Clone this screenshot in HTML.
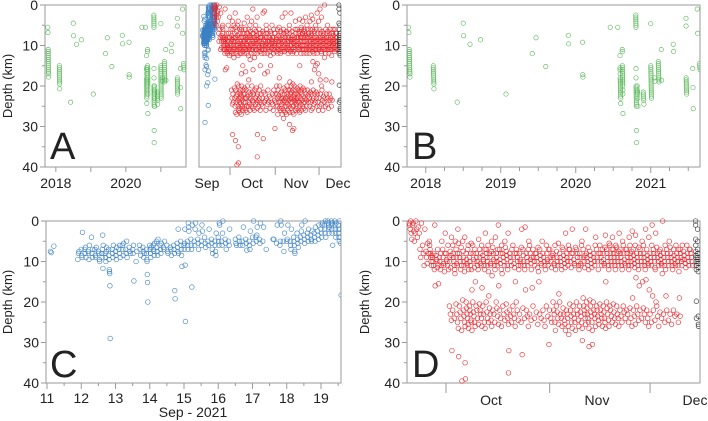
<!DOCTYPE html>
<html><head><meta charset="utf-8">
<style>
html,body{margin:0;padding:0;background:#fff;}
svg{display:block;font-family:"Liberation Sans",Arial,sans-serif;}
</style></head>
<body>
<svg id="fig" width="708" height="421" viewBox="0 0 708 421" xmlns="http://www.w3.org/2000/svg"></svg>
<script>
// ---------- DATA ----------
const greenRows = [
[2017.77,5.5,6.8],[2017.78,11,11.5,12,12.5,13,13.5,14,14.5,15,15.5,16,16.5,17,17.8],
[2018.1,15,15.5,16,16.5,17,17.5,18,18.5,19,19.5,20.7],
[2018.42,24],[2018.5,4.5,7.6],[2018.59,9.7],[2018.73,8.6],[2019.07,22],
[2019.42,12],[2019.47,8.1],[2019.6,15.2],[2019.9,7.5,9.6],[2020.09,9.2,17.2,17.8],
[2020.46,5.5],[2020.56,5.5],
[2020.59,12.5,15.5,16,17,18,18.5,19,19.5,20,20.5,21,21.5,22,22.5,23,24.3],
[2020.62,11,11.5,15,15.5,16,16.5,17,17.5,18,18.5,19,19.5,20,21,22,26.8],
[2020.8,2.5,3,3.5,4,4.5,5,5.5,15.7,18,20,20.5,21,21.5,22,22.5,23,23.5,24,24.5,25,31,34],
[2020.82,20,21,21.5,22,23,25],
[2020.9,21.5,22,22.5,23,23.5,24.5],[2021.0,4.6,15,15.5,16,16.5,17,17.5,18,18.5,19,19.5,20,20.5,21,21.5,22,22.5,23],
[2021.05,18,18.8],[2021.1,14,14.5,15,15.5,16,16.5,17,17.5,18,18.5,19],[2021.14,11,18.6],
[2021.3,9.7,11.5],[2021.47,3.3,5.2,18,18.5,19,19.5,20,20.5,21,21.5,22],
[2021.56,15.7,20.4,25.6],[2021.62,1,7],[2021.65,14.5,15,15.5,16]
];
const blueRows = [
[11.1,7.5,7.8],[11.2,6.2],[11.9,9.5,8,7.5],[12.0,7,8.5,9,2.8],[12.1,7,8,6.5,9],[12.2,7.5,8,9.5,6],
[12.3,4,8,9,7],[12.4,7,8.5,9,6.5],[12.5,7.5,8,9.5,10],[12.6,8,9,7,3.5,11.7,6],[12.7,8,9,10,7.5,6.5],
[12.8,7,8.5,9.5,12,12.5,13,16,29],[12.9,7,8,9,6],[13.0,7.5,8.5,9.5,6.5],[13.1,7,8,6,9],[13.2,6,7,8.5,5.5],
[13.3,7,8,5,9],[13.4,6.5,7.5,8],[13.5,7,8,6,14.8],[13.6,10,7.5],[13.7,6,7,8.5],[13.8,6.5,7.5,9,8],
[13.9,7,8,9.5,10,13.2,15.2,20],[14.0,6,7,8,9,6.5],[14.1,6,7,7.5,8.5,5.5],[14.2,5,6.5,7.5,8.5,4.5],
[14.3,6,7,8,5.5],[14.4,6.5,7,5],[14.5,6,7.5,8],[14.6,6.5,7,8.5],[14.7,6,7,8,17.2,19.2],[14.8,5.5,6.5,7.5,2,8],
[14.9,5,6,7,8.5,11.2],[15.0,6,7,5.5,2,10.9,24.8],[15.1,5,6,7,0.5,1.5,2.5],[15.2,4.5,6,7,16.3,1],
[15.3,5,6,2,0.5],[15.4,4.5,5.5,7,3],[15.5,5,6,1,2.5],[15.6,4,5.5,6.5],[15.7,5,6,2],[15.8,4.5,5.5,7,8],
[15.9,5,6,7.5,8.5,3],[16.0,4,5,6,0.5,1],[16.1,5,6,3,0],[16.2,4.5,5.5,7],[16.3,5,6,2],[16.5,4.5,5.5,6],
[16.6,4,5,6],[16.7,5,6,1.5],[16.8,4.5,5.5,7.2],[16.9,5,6,7,2.5],[17.0,4,5.5,0],[17.1,4,5,3.5,1.5],
[17.2,4.5,5.5,0.5],[17.3,5,1.5],[17.4,7],[17.6,4.5,4.5],[17.7,5.5,1],[17.8,6,5,0,1],[17.9,5,7.5,3],
[18.0,5,4.5,1],[18.1,5,6,7,2],[18.2,4,5,6,7.5,8],[18.3,3,4.5,5.5,6.5],[18.4,4,5,2.5,1],[18.5,3.5,4.5,5.5,0],
[18.6,3,4,5,2],[18.7,3.5,4.5,5,2.5],[18.8,3,4,5,1.5],[18.9,2.5,3.5,4.5,1],[19.0,2,3,4,1,0.5],
[19.1,1,2,3,0,4],[19.2,0,0.5,1,2,3,1.5],[19.3,0,1,2,3,0.5,6],[19.4,0,1,2,3,4,0.5],[19.5,1,2,3,4,5,0],
[19.55,2,4,5.5,18.3]
];
const redRows = [
[19,0.5,1,2,0,3,4.5],[20,1,0.5,2.5,5,3],[21,0,2,4,1.5],[22,3,7,9,0.5],[23,6,8,11,2],[24,7.5,9,10.5,5.5,8],
[25,5,6,7,8,9,10,11,8.5],[26,9,10,11,8,12,1,16],[27,8.5,9.5,10,11.5,7,10.8,15.5],[28,9,10,12,8,11,5],
[29,7,9,10.5,11,12.5,8,3],[30,8,9.5,10,11,6,12],[31,9,10,7.5,11.5,8.5,4,32],[32,6,8,9,10,11,12,13,5],
[33,7,9,10.5,11,8,2,5.5,33.5],[34,8,9,10,12,6.5,11,39.5],[35,5,7.5,9,10,11,12.5,4,35,39],[36,8,9.5,10.5,11,7,6,12],
[37,9,10,11,8,5.5,12,17],[38,6,8,9.5,10,11.5,7,15],[39,8,9,10,11,12,4.5],[40,7,9,10.5,8,11,6,16.5],
[41,8.5,9.5,10,11,12,7,3],[42,7,8,9,10,11,6,12.5,18.5],[43,8,9,10.5,11,7.5,5,13.5],[44,6.5,8,9.5,10,11,12,4],
[45,8,9,10,11,7,1,16],[46,7,9.5,10.5,8,12,6,13],[47,8,9,10,11,5,6.5],[48,7.5,8.5,9.5,11,12,3,37.5,32],
[49,8,9,10,11,7],[50,6,9,10.5,11.5,8,15],[51,7,8,9,10,11,12],[52,8,9.5,10,11,6.5,2,33],[53,7,8.5,10,11,12,1.5,17],
[54,8,9,10,11,7,5],[55,6,8,9.5,10.5,12,9,16.5],[56,7,9,10,11,8],[57,8,9,10,11.5,6.5,12.5,15],[58,7,8.5,9.5,10.5,11,5],
[59,8,9,10,11,12],[60,6,8,9.5,10,11,7,30.5],[61,7,9,10,11.5,8.5],[62,8,9,10.5,11,6,12],[63,7.5,9,10,11,5.5,18],
[64,8,9,10,11,12,6.5],[65,7,8.5,9.5,10.5,11.5,3],[66,8,9,10,11,6,7],[67,7,9,10,11.5,8,2],[68,8,9.5,10.5,11,6.5],
[69,7,8,9,10,11,12],[70,8,9,10.5,11,6,5,29.5],[71,7,9,10,11.5,8.5,2],[72,8,9,10,11,6.5,12,31],[73,7.5,8.5,9.5,10.5,11.5,30.5],
[74,8,9,10,11,6,4],[75,7,9,10,12,8],[76,6,8,9,10,11,7],[77,8,9.5,10.5,11,6.5,3.5,15],[78,7,8,9,10,11,12,5.5],
[79,6,8,9,10,11,7,4],[80,7,8,9,10,11,12,6],[81,6.5,8,9,10,11,7.5,3],[82,7,8,9,10,11,12,5],[83,6,8,9.5,10.5,11,7],
[84,7,8,9,10,11,12,4],[85,6,8,9,10,11,7.5,2.5,19],[86,7,8.5,9.5,10.5,11.5,6,3.5,14],[87,8,9,10,11,12,6.5,16],
[88,7,8,9,10,11,5,15],[89,6,8,9,10,11,12,2,14.5],[90,7,8.5,9.5,10.5,11,4,17],[91,8,9,10,11,6,1,18.5],
[92,7,8,9,10,11.5,12,3,20],[93,6.5,8,9,10,11,7.5],[94,7,8.5,9.5,10.5,11,13,0],[95,8,9,10,11,6,12,18.5],
[96,7,8,9,10,11,5],[97,6.5,8,9,10,11,12],[98,7,8.5,9.5,10.5,11,6],[99,8,9,10,11,7,12.5,19],[100,7,8,9,10,11,6,9.5],
[101,7.5,8.5,9.5,10.5,11.5],[102,6,8,9,10,11,7],[103,7,8,9,10,11],
[31,21,23,24.5],[32,22,24],[33,20.5,23,25,26.5],[34,21,22.5,24,27],[35,19.5,22,23.5,25,26],[36,20,21.5,23,24,25.5,26.5],
[37,21,22,23,24.5,25,27],[38,20,22.5,23.5,25,26],[39,21,22,24,25.5],[40,20.5,22,23,24,26],[41,21,23,25,26.5],
[42,20,22.5,24,25],[43,21.5,23,24.5,26],[44,22,23,25],[45,20,21.5,23.5,25.5],[46,22,24,26],[47,21,23,24.5],
[48,20.5,22.5,24,25.5],[49,22,23.5,25],[50,21,23,24,26],[51,20,22,24.5],[52,23,25],[53,21.5,24],[54,22,23.5,26],
[55,23,24.5],[56,21,24],[57,22.5,25.5],[58,23,24],[59,22,24.5,26],[60,21,23.5],[61,22,24,25],[62,20,22,23,25,27],
[63,21,22.5,24,25.5],[64,20,23,24,26],[65,21.5,23,24.5,25.5,27],[66,22,23,24,26,28],[67,20.5,22,23.5,25,26.5],
[68,21,23,24,25,27],[69,20,22,23,24.5,26],[70,21,22.5,23.5,25,26.5],[71,19,21,22,23,24,25.5],[72,20,21.5,23,24,25,26.5],
[73,19.5,21,22.5,23.5,25,27],[74,20,22,23,24,26],[75,21,22,23.5,24.5,25.5],[76,20.5,22,23,24,26],[77,21,22.5,24,25,26.5],
[78,20,21.5,23,24.5,26],[79,21,22,23.5,25],[80,20.5,22.5,24,25.5],[81,21,23,24,26],[82,22,23.5,25],[83,21,22.5,24],
[84,22,23,25],[85,21.5,24,26],[86,22,23.5,25.5],[87,21,23,24.5],[88,22,24],[89,21.5,23,25],[90,22,24,26],[91,23,25],
[92,22,24.5],[93,21,23.5,26],[94,22.5,24],[95,23,25],[96,22,24.5],[97,23,25.5],[98,22,23.5],[99,23,25],[100,23.5]
];
const blackRows = [
[104.6,0,1,4.5,6,7.5,8.5,9,10,11,12,19.8,24],
[105.2,2,5,7,8,9,9.5,10,10.5,11.5,12.5,23.5,25.5,26]
];
const depthTicks = [0,10,20,30,40];
const yearTicks = [2018,2019,2020,2021];
const monthStarts = [30,61,91];
const monthLabels = ["Sep","Oct","Nov","Dec"];
const sepDayTicks = [11,12,13,14,15,16,17,18,19];

// ---------- DRAWING ----------
const NS="http://www.w3.org/2000/svg";
const svg=document.getElementById('fig');
function mk(tag,attrs,parent){const e=document.createElementNS(NS,tag);for(const k in attrs)e.setAttribute(k,attrs[k]);(parent||svg).appendChild(e);return e;}
function txt(s,x,y,size,anchor,parent){const t=mk('text',{x:x,y:y,'font-size':size,'text-anchor':anchor||'middle',fill:'#222'},parent);t.textContent=s;return t;}
const AX='#9a9a9a';
let clipN=0;
function region(x0,x1,y0,y1){
  const id='clip'+(clipN++);
  const cp=mk('clipPath',{id:id});
  mk('rect',{x:x0,y:y0-3,width:x1-x0,height:y1-y0+6},cp);
  return mk('g',{'clip-path':'url(#'+id+')'});
}
function plotRows(rows,sx,sy,g,color,r,spread,name){
  rows.forEach(row=>{
    const n=row.length-1;
    for(let k=1;k<=n;k++){
      const xv=row[0]+spread*((k-1)/Math.max(n,1));
      const c=mk('circle',{cx:sx(xv),cy:sy(row[k]),r:r,fill:'none',stroke:color,'stroke-width':0.7,'stroke-opacity':0.9},g);
      
      
    }
  });
}
function yAxis(x,y0,y1,sy,labelY,lblX){
  mk('line',{x1:x,y1:y0,x2:x,y2:y1,stroke:AX,'stroke-width':1});
  for(let d=0;d<=40;d+=5){mk('line',{x1:x-(d%10?3:5),y1:sy(d),x2:x,y2:sy(d),stroke:AX});}
  depthTicks.forEach(d=>{const t=txt(String(d),x-7,sy(d)+5,14,'end');
    
    });
  const t=mk('text',{x:lblX,y:labelY,'font-size':13,'text-anchor':'middle',fill:'#222',transform:'rotate(-90 '+lblX+' '+labelY+')'});
  t.textContent='Depth (km)';
  
  
}
function frame(x0,x1,y0,y1){mk('rect',{x:x0,y:y0,width:x1-x0,height:y1-y0,fill:'none',stroke:AX,'stroke-width':1});}
function letter(s,x,y){const t=txt(s,x,y,38,'start');}

// Panel A
(function(){
  const y0=5,y1=167;
  const sy=d=>y0+(d/40)*(y1-y0);
  const lx0=45,lx1=186, sxL=v=>lx0+(v-2017.69)*35;
  const rx0=199,rx1=341, sxR=v=>230+(v-30)*1.46;
  frame(lx0,lx1,y0,y1); frame(rx0,rx1,y0,y1);
  yAxis(lx0,y0,y1,sy,86,12);
  const gL=region(lx0,lx1,y0,y1);
  plotRows(greenRows,sxL,sy,gL,'#5cb85c',2.2,0.01,'green-event-point');
  const gR=region(rx0,rx1,y0,y1);
  plotRows(blueRows,sxR,sy,gR,'#3d82c4',2.2,0.1,'blue-event-point');
  plotRows(redRows,sxR,sy,gR,'#e8262b',2.2,0.9,'red-event-point');
  plotRows(blackRows,sxR,sy,gR,'#333',2.2,0.3,'black-event-point');
  yearTicks.forEach(y=>{const x=sxL(y);if(x>lx0&&x<lx1){mk('line',{x1:x,y1:y1,x2:x,y2:y1+5,stroke:AX});
    if(y%2===0){const t=txt(String(y),x,188,14);}}});
  monthStarts.forEach(m=>mk('line',{x1:sxR(m),y1:y1,x2:sxR(m),y2:y1+8,stroke:AX}));
  [[monthLabels[0],207],[monthLabels[1],252],[monthLabels[2],296],[monthLabels[3],338]].forEach(p=>{const t=txt(p[0],p[1],188,14);});
  letter('A',50,159);
})();

// Panel B
(function(){
  const y0=5,y1=167,x0=407,x1=700;
  const sy=d=>y0+(d/40)*(y1-y0);
  const sx=v=>x0+(v-2017.75)*75;
  frame(x0,x1,y0,y1);
  yAxis(x0,y0,y1,sy,86,369);
  const g=region(x0,x1,y0,y1);
  plotRows(greenRows,sx,sy,g,'#5cb85c',2.2,0.01,'green-event-point');
  for(let q=2018;q<2021.7;q+=0.25){const x=sx(q);mk('line',{x1:x,y1:y1,x2:x,y2:y1+(q%1===0?6:4),stroke:AX});}
  yearTicks.forEach(y=>{const t=txt(String(y),sx(y),188,14);});
  letter('B',412,159);
})();

// Panel C
(function(){
  const y0=221,y1=383,x0=46,x1=341;
  const sy=d=>y0+(d/40)*(y1-y0);
  const sx=v=>47+(v-11)*34.25;
  frame(x0,x1,y0,y1);
  yAxis(x0,y0,y1,sy,302,12);
  const g=region(x0,x1,y0,y1);
  plotRows(blueRows,sx,sy,g,'#3d82c4',2.3,0.05,'blue-event-point');
  sepDayTicks.forEach(d=>{mk('line',{x1:sx(d),y1:y1,x2:sx(d),y2:y1+6,stroke:AX});mk('line',{x1:sx(d+0.5),y1:y1,x2:sx(d+0.5),y2:y1+3,stroke:AX});
    const t=txt(String(d),sx(d),403,14);});
  const t=txt('Sep - 2021',193,417,14);
  letter('C',50,377);
})();

// Panel D
(function(){
  const y0=221,y1=383,x0=407,x1=700;
  const sy=d=>y0+(d/40)*(y1-y0);
  const sx=v=>446+(v-30)*3.345;
  frame(x0,x1,y0,y1);
  yAxis(x0,y0,y1,sy,302,369);
  const g=region(x0,x1,y0,y1);
  plotRows(redRows,sx,sy,g,'#e8262b',2.3,0.9,'red-event-point');
  plotRows(blackRows,sx,sy,g,'#333',2.3,0.3,'black-event-point');
  monthStarts.forEach(m=>mk('line',{x1:sx(m),y1:y1,x2:sx(m),y2:y1+10,stroke:AX}));
  [[monthLabels[1],491],[monthLabels[2],597],[monthLabels[3],695]].forEach(p=>{const t=txt(p[0],p[1],405,14);});
  letter('D',412,377);
})();
</script>
</body></html>
